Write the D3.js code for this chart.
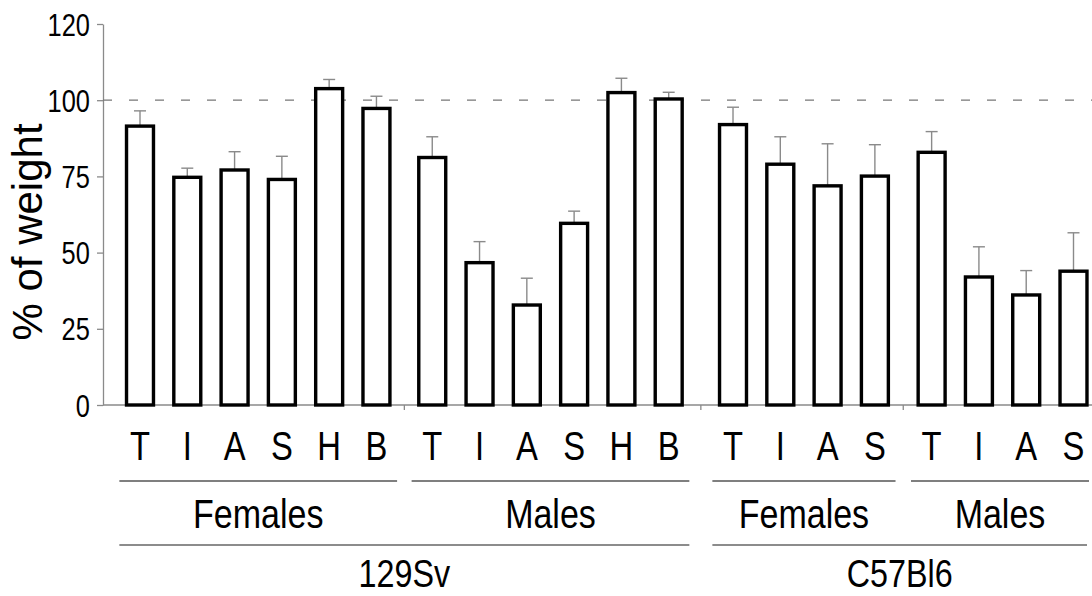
<!DOCTYPE html>
<html>
<head>
<meta charset="utf-8">
<script src="https://cdn.jsdelivr.net/npm/d3@7"></script>
<style>
  html, body { margin: 0; padding: 0; background: #fff; }
  svg { display: block; }
</style>
</head>
<body>
<script>
// Tissue weight as % of control, per strain and sex
const strains = ["129Sv", "C57Bl6"];
const sexes = ["Females", "Males", "Females", "Males"];
const groupStrain = [0, 0, 1, 1];
const tissues129 = ["T", "I", "A", "S", "H", "B"];
const tissuesC57 = ["T", "I", "A", "S"];
const groupTissues = [tissues129, tissues129, tissuesC57, tissuesC57];

// means and error (SEM) per bar, in bar order
const means  = [91.5, 74.7, 77.1, 74.0, 103.8, 97.3,
                81.2, 46.7, 32.8, 59.6, 102.5, 100.4,
                92.0, 79.0, 71.9, 75.1,
                82.9, 42.0, 36.1, 43.9];
const errors = [5.0, 3.0, 6.0, 7.6, 3.0, 4.0,
                6.8, 6.9, 8.8, 4.0, 4.7, 2.2,
                5.7, 9.0, 13.8, 10.3,
                6.8, 9.9, 8.0, 12.6];

const yTickValues = [0, 25, 50, 75, 100, 125];
const yTickLabels = ["0", "25", "50", "75", "100", "120"];
const referenceLevel = 100;

// extra spacing (in bar slots) inserted after each group
const groupGapAfter = [0.18, 0.36, 0.2];

const W = 1092, H = 596;
const SANS = "'Liberation Sans', Arial, sans-serif";
// condensed look for the axis and group labels
const NARROW_X = 0.82;
const GROUP_X = 0.85;

// build bar records with slot positions
const bars = [];
const groups = [];
let slot = 0, k = 0;
groupTissues.forEach((tis, g) => {
  const first = slot;
  tis.forEach(t => {
    bars.push({ tissue: t, group: g, slot: slot, mean: means[k], err: errors[k] });
    slot += 1; k += 1;
  });
  groups.push({ label: sexes[g], strain: groupStrain[g], first: first, last: slot - 1 });
  if (g < groupGapAfter.length) slot += groupGapAfter[g];
});
const lastSlot = bars[bars.length - 1].slot;

const x = d3.scaleLinear().domain([0, lastSlot]).range([140, 1073.5]);
const y = d3.scaleLinear().domain([0, 125]).range([405, 24]);
const unit = x(1) - x(0);
const barW = unit * 0.57;
const axisX = 103;

const svg = d3.select("body").append("svg")
  .attr("width", W).attr("height", H);

// y axis
const yAxis = svg.append("g")
  .attr("transform", `translate(${axisX},0)`)
  .call(d3.axisLeft(y).tickValues(yTickValues)
    .tickFormat((d, i) => yTickLabels[i])
    .tickSize(6).tickSizeOuter(0).tickPadding(10));
yAxis.select(".domain").attr("stroke", "#8a8a8a").attr("stroke-width", 1.3);
yAxis.selectAll(".tick line").attr("stroke", "#8a8a8a").attr("stroke-width", 1.3);
yAxis.selectAll(".tick text")
  .attr("fill", "#000").attr("font-family", SANS).attr("font-size", 31)
  .attr("dy", "0.36em")
  .attr("transform", `scale(${NARROW_X},1)`);

// x axis baseline with separators between groups
const boundaries = groups.slice(0, -1).map((g, i) => (x(g.last) + x(groups[i + 1].first)) / 2);
svg.append("line")
  .attr("x1", axisX).attr("x2", W)
  .attr("y1", y(0)).attr("y2", y(0))
  .attr("stroke", "#8a8a8a").attr("stroke-width", 1.3);
svg.selectAll(".sep").data(boundaries).enter().append("line")
  .attr("x1", d => d).attr("x2", d => d)
  .attr("y1", y(0)).attr("y2", y(0) + 5)
  .attr("stroke", "#8a8a8a").attr("stroke-width", 1.3);

// 100% reference line
svg.append("line")
  .attr("x1", axisX).attr("x2", W)
  .attr("y1", y(referenceLevel)).attr("y2", y(referenceLevel))
  .attr("stroke", "#777").attr("stroke-width", 1.3)
  .attr("stroke-dasharray", "9,17");

// error bars (upper only)
const capHalf = 6;
const eb = svg.selectAll(".err").data(bars).enter().append("g").attr("class", "err")
  .attr("stroke", "#8a8a8a").attr("stroke-width", 1.4);
eb.append("line")
  .attr("x1", d => x(d.slot)).attr("x2", d => x(d.slot))
  .attr("y1", d => y(d.mean)).attr("y2", d => y(d.mean + d.err));
eb.append("line")
  .attr("x1", d => x(d.slot) - capHalf).attr("x2", d => x(d.slot) + capHalf)
  .attr("y1", d => y(d.mean + d.err)).attr("y2", d => y(d.mean + d.err));

// bars
svg.selectAll(".bar").data(bars).enter().append("rect").attr("class", "bar")
  .attr("x", d => x(d.slot) - barW / 2)
  .attr("width", barW)
  .attr("y", d => y(d.mean))
  .attr("height", d => y(0) - y(d.mean))
  .attr("fill", "#fff").attr("stroke", "#000").attr("stroke-width", 3.4);

// condensed centred label helper
function label(sel, xf, yv, sx, size, textf) {
  return sel.append("text")
    .attr("transform", d => `translate(${xf(d)},${yv}) scale(${sx},1)`)
    .attr("text-anchor", "middle")
    .attr("font-family", SANS).attr("font-size", size)
    .text(textf);
}

// tissue letters
label(svg.selectAll(".cat").data(bars).enter(), d => x(d.slot), 460, NARROW_X, 40, d => d.tissue);

// sex group brackets
const inset = 3;
const gx1 = g => x(g.first) - unit / 2 + inset;
const gx2 = g => Math.min(x(g.last) + unit / 2 - inset, W - 3);
svg.selectAll(".gline").data(groups).enter().append("line")
  .attr("x1", gx1).attr("x2", gx2)
  .attr("y1", 481).attr("y2", 481)
  .attr("stroke", "#555").attr("stroke-width", 1.4);
label(svg.selectAll(".glabel").data(groups).enter(),
  d => (gx1(d) + gx2(d)) / 2, 528, GROUP_X, 40, d => d.label);

// strain brackets
const strainSpans = strains.map((s, i) => {
  const gs = groups.filter(g => g.strain === i);
  return { label: s, x1: gx1(gs[0]), x2: Math.min(gx2(gs[gs.length - 1]), W - 5) };
});
svg.selectAll(".sline").data(strainSpans).enter().append("line")
  .attr("x1", d => d.x1).attr("x2", d => d.x2)
  .attr("y1", 545).attr("y2", 545)
  .attr("stroke", "#666").attr("stroke-width", 1.4);
label(svg.selectAll(".slabel").data(strainSpans).enter(),
  d => (d.x1 + d.x2) / 2, 587, GROUP_X, 38, d => d.label);

// y axis title
svg.append("text")
  .attr("transform", "translate(42,232) rotate(-90)")
  .attr("text-anchor", "middle")
  .attr("font-family", SANS).attr("font-size", 42)
  .text("% of weight");
</script>
</body>
</html>
